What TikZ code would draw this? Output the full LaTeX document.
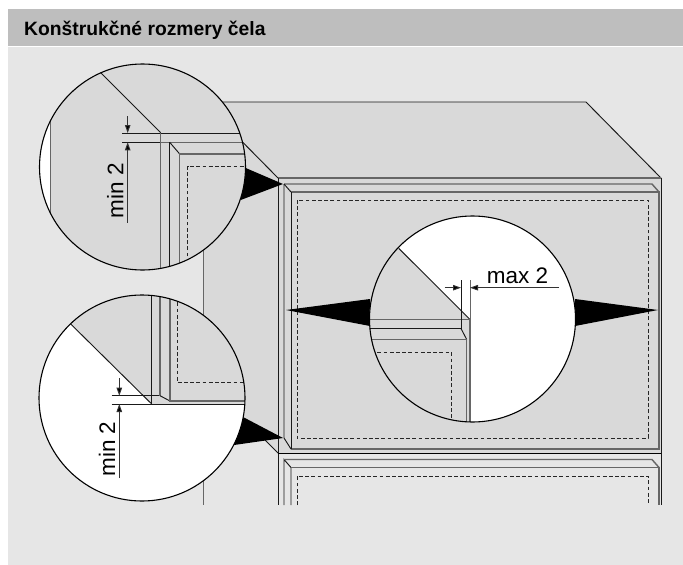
\documentclass[tikz,border=0pt]{standalone}
\usepackage{fontspec}
\setmainfont{Liberation Sans}
\usetikzlibrary{arrows.meta}
\definecolor{hdr}{HTML}{BEBEBE}
\definecolor{pan}{HTML}{E6E6E6}
\definecolor{face}{HTML}{D9D9D9}
\definecolor{gl}{HTML}{666666}
\tikzset{
 blk/.style={draw=black!90,line width=0.95pt},
 gry/.style={draw=gl,line width=1.45pt},
 thin gray/.style={draw=gl,line width=0.95pt},
 dsh/.style={draw=black!85,line width=0.95pt,dash pattern=on 3.8pt off 2.4pt},
 dim/.style={draw=black!80,line width=0.9pt},
 tipd/.style={-{Triangle[length=8pt,width=5.5pt,fill=black]}},
 lens/.style={draw=black,line width=1.1pt},
 dimtext/.style={font=\fontsize{22.5}{24}\selectfont,inner sep=0pt},
}
\begin{document}
\begin{tikzpicture}[x=1pt,y=-1pt]
\useasboundingbox (0,0) rectangle (683,565);
\fill[white] (0,0) rectangle (683,565);
\fill[hdr] (8,9) rectangle (683,46);
\fill[pan] (8,47) rectangle (683,565);
\node[anchor=base west,inner sep=0pt,font=\fontsize{19.3}{22}\selectfont\bfseries] (title) at (24,35) {Konštrukčné rozmery čela};
% box faces
\fill[face] (203,102) -- (586,102) -- (661,178) -- (661,453) -- (278,453) -- (203,378) -- cycle;
\draw[blk] (203,102) -- (586,102) -- (661,178);
\draw[blk] (203,102) -- (278,178);
\draw[thin gray] (203,102) -- (203,505);
\draw[blk] (278,453) -- (203,378);
% front 1
\draw[gry] (278,178) -- (661,178);
\draw[blk] (278,178) -- (278,505);
\draw[blk] (661,178) -- (661,505);
\draw[gry] (284,184) -- (652,184) -- (659,192);
\draw[blk] (284,184) -- (291,192);
\draw[blk] (284,184) -- (284,438) -- (291,449);
\draw[gry] (291,192) -- (659,192) -- (659,449) -- (291,449);
\draw[blk] (291,192) -- (291,449);
\draw[dsh] (297,505) -- (297,476) -- (648,476) -- (648,505);
\draw[dsh] (297,200) rectangle (648,438);
\draw[line width=1.4pt] (278,453.5) -- (661,453.5);
% front 2
\draw[blk] (284,505) -- (284,459.5) -- (291,467.5) -- (291,505);
\draw[gry] (284,459.5) -- (652,459.5) -- (659,467.5);
\draw[gry] (291,467.5) -- (659,467.5) -- (659,505);
% pointers
\fill[black] (245.7,168) -- (283,184) -- (240.7,200) -- cycle;
\fill[black] (243,417) -- (283,438) -- (234,445) -- cycle;
\fill[black] (370,299) -- (286,310) -- (370,326) -- cycle;
\fill[black] (575,299) -- (658,310) -- (575,326) -- cycle;
% top lens
\begin{scope}
\clip (142.5,167) circle (103);
\fill[face] (39,60) rectangle (250,275);
\fill[white] (35,60) rectangle (50.7,275);
\draw[gry] (50.7,60) -- (50.7,275);
\draw[blk] (100.7,72.7) -- (160.7,132.7);
\draw[blk] (122.3,133) -- (250,133);
\draw[blk] (122.3,142.3) -- (160.7,142.3);
\draw[gry] (160.7,142.3) -- (250,142.3);
\draw[gry] (160.7,133) -- (160.7,275);
\draw[blk] (169.7,142.3) -- (169.7,275);
\draw[blk] (169.7,142.3) -- (179.7,154);
\draw[gry] (250,154) -- (179.7,154) -- (179.7,275);
\draw[dsh] (187.5,275) -- (187.5,166) -- (250,166);
\end{scope}
\draw[lens] (142.5,167) circle (103);
\coordinate (t1) at (127.7,116);
\coordinate (t2) at (127.7,133);
\coordinate (t3) at (127.7,222.7);
\coordinate (t4) at (127.7,142.3);
\draw[dim,tipd] (t1) -- (t2);
\draw[dim,tipd] (t3) -- (t4);
\node[dimtext,rotate=90,anchor=base] (lbla) at (123.3,190.5) {min 2};
% bottom lens
\begin{scope}
\clip (142,398) circle (103);
\fill[white] (35,290) rectangle (250,505);
\fill[face] (70.7,324) -- (151.7,404) -- (250,404) -- (250,290) -- (70.7,290) -- cycle;
\draw[blk] (70.7,324) -- (151.7,404);
\draw[blk] (111.7,404) -- (250,404);
\draw[blk] (151.7,290) -- (151.7,404);
\draw[blk] (111.7,395.7) -- (160,395.7);
\draw[gry] (160,290) -- (160,395.7);
\draw[blk] (160,395.7) -- (170,401);
\draw[gry] (170,290) -- (170,401) -- (250,401);
\draw[dsh] (177.5,290) -- (177.5,382.7) -- (250,382.7);
\end{scope}
\draw[lens] (142,398) circle (103);
\coordinate (b1) at (119.3,378);
\coordinate (b2) at (119.3,395.7);
\coordinate (b3) at (119.3,478);
\coordinate (b4) at (119.3,404);
\draw[dim,tipd] (b1) -- (b2);
\draw[dim,tipd] (b3) -- (b4);
\node[dimtext,rotate=90,anchor=base] (lblb) at (115,449) {min 2};
% middle lens
\begin{scope}
\clip (472.5,319) circle (103);
\fill[white] (365,210) rectangle (580,425);
\fill[face] (398.7,248.3) -- (470,319.5) -- (470,425) -- (365,425) -- (365,248.3) -- cycle;
\draw[blk] (398.7,248.3) -- (470,319.5);
\draw[gry] (365,319.5) -- (470,319.5);
\draw[gry] (470,319.5) -- (470,425);
\draw[blk] (365,328.5) -- (461,328.5) -- (466.7,339.5);
\draw[gry] (365,339.5) -- (466.7,339.5) -- (466.7,425);
\draw[dsh] (365,352) -- (451.5,352) -- (451.5,425);
\draw[blk] (461,280) -- (461,328.5);
\draw[thin gray] (470,280) -- (470,319.5);
\end{scope}
\draw[lens] (472.5,319) circle (103);
\coordinate (m1) at (444.5,287.7);
\coordinate (m2) at (461,287.7);
\coordinate (m3) at (559,287.7);
\coordinate (m4) at (470,287.7);
\draw[dim,tipd] (m1) -- (m2);
\draw[dim,tipd] (m3) -- (m4);
\node[dimtext,anchor=base] (lblc) at (517.5,283) {max 2};
\end{tikzpicture}
\end{document}
